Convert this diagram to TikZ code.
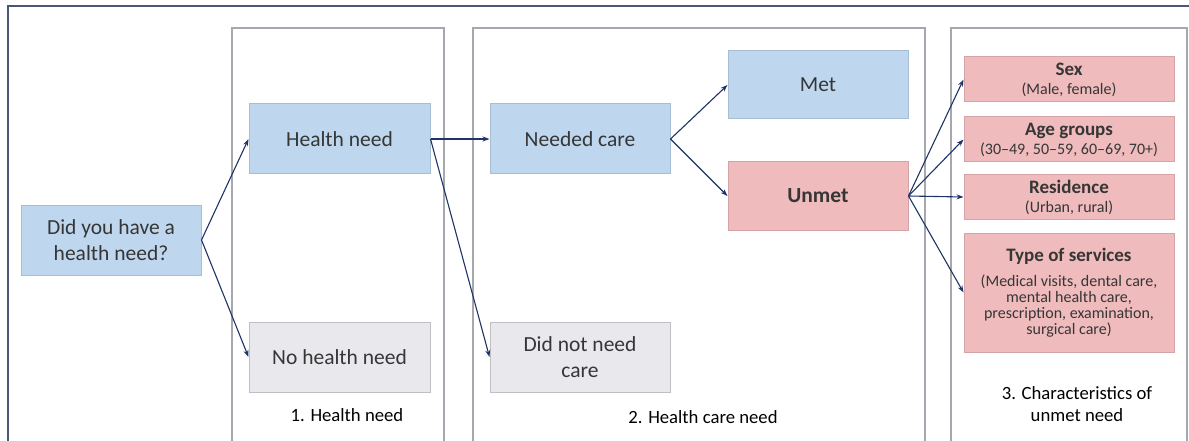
\documentclass[tikz,border=0pt]{standalone}
\usepackage{xcolor}
\usepackage{fontspec}
\setmainfont{Carlito}
\usepackage{tikz}
\usetikzlibrary{shapes, arrows.meta, positioning}

\definecolor{needblue}{HTML}{BED7EE}
\definecolor{needblueline}{HTML}{A8BCD2}
\definecolor{unmetpink}{HTML}{EFBBBC}
\definecolor{unmetpinkline}{HTML}{D3A3A5}
\definecolor{nogray}{HTML}{E9E8EC}
\definecolor{nograyline}{HTML}{BEBEC3}
\definecolor{panelgray}{HTML}{A7A7B0}
\definecolor{framenavy}{HTML}{4A5676}
\definecolor{arrownavy}{HTML}{1F3466}
\definecolor{textgray}{HTML}{363636}

\newcommand{\traithead}{\fontsize{19}{19}\selectfont\bfseries}
\newcommand{\traitsub}{\fontsize{16}{16}\selectfont\mdseries}

\begin{document}
\begin{tikzpicture}
  [
    x=1pt, y=-1pt, >={Stealth[length=7pt, width=5pt]},
    Blue/.style={rectangle, draw=needblueline, fill=needblue, line width=1pt, text=textgray, font=\fontsize{21.5}{26}\selectfont, align=center, minimum width=181pt, minimum height=70pt, inner sep=0pt},
    Pink/.style={Blue, draw=unmetpinkline, fill=unmetpink},
    Gray/.style={Blue, draw=nograyline, fill=nogray},
    Trait/.style={rectangle, draw=unmetpinkline, fill=unmetpink, line width=1pt, text=textgray, font=\fontsize{16}{16}\selectfont, align=center, minimum width=210pt, inner sep=0pt},
    Panel/.style={draw=panelgray, line width=1.6pt},
    Caption/.style={text=black, font=\fontsize{18.7}{22}\selectfont, align=center},
    Link/.style={->, draw=arrownavy, line width=1.1pt}
  ]
  \useasboundingbox (0,0) rectangle (1189,441);

  % Frame and panels
  \draw[framenavy, line width=1.4pt] (8,441) -- (8,6) -- (1189,6);
  \draw[Panel] (232,441) -- (232,28) -- (444,28) -- (444,441);
  \draw[Panel] (473,441) -- (473,28) -- (925,28) -- (925,441);
  \draw[Panel] (951,441) -- (951,28) -- (1187,28) -- (1187,441);

  % Nodes
  \node[Blue, minimum width=180pt] (q) at (111, 240) {Did you have a\\health need?};

  \node[Blue] (hn) at (339.5, 139) {Health need};

  \node[Gray] (nhn) at (339.5, 357) {No health need};

  \node[Blue, minimum width=180pt] (nc) at (580, 139) {Needed care};

  \node[Gray, minimum width=180pt] (dnc) at (580, 357) {Did not need\\care};

  \node[Blue, minimum width=180pt, minimum height=68pt] (met) at (818, 85) {Met};

  \node[Pink, minimum width=180pt, minimum height=68pt, font=\fontsize{21.5}{26}\selectfont\bfseries] (unmet) at (818, 196) {Unmet};

  \node[Trait, minimum height=45pt] (sex) at (1069, 79.5)
    {\traithead Sex\\[3pt]\traitsub (Male, female)};

  \node[Trait, minimum height=45pt] (age) at (1069, 139.5)
    {\traithead Age groups\\[3pt]\traitsub (30–49, 50–59, 60–69, 70+)};

  \node[Trait, minimum height=44pt] (res) at (1069, 197)
    {\traithead Residence\\[3pt]\traitsub (Urban, rural)};

  \node[Trait, minimum height=119pt] (type) at (1069, 292.5)
    {\traithead Type of services\\[9pt]
     \traitsub (Medical visits, dental care,\\\traitsub mental health care,\\\traitsub prescription, examination,\\\traitsub surgical care)};

  \node[Caption] (cap1) at (347, 415) {1. Health need};
  \node[Caption] (cap2) at (703, 417) {2. Health care need};
  \node[Caption] (cap3) at (1077, 404) {3. Characteristics of\\unmet need};

  % Lines
  \path [Link] (q.east) -- (hn.west);
  \path [Link] (q.east) -- (nhn.west);
  \path [Link] (hn.east) -- (nc.west);
  \path [Link] (hn.east) -- (dnc.west);
  \path [Link] (nc.east) -- (met.west);
  \path [Link] (nc.east) -- (unmet.west);
  \path [Link] (unmet.east) -- (sex.west);
  \path [Link] (unmet.east) -- (age.west);
  \path [Link] (unmet.east) -- (res.west);
  \path [Link] (unmet.east) -- (type.west);

\end{tikzpicture}
\end{document}
